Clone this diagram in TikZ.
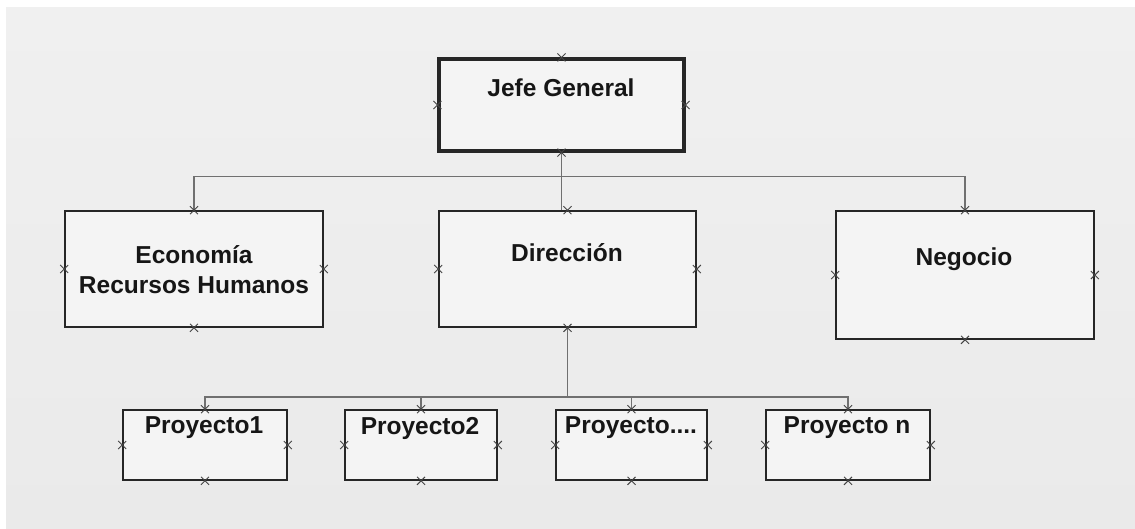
\documentclass[tikz,border=0pt]{standalone}
\usepackage{fontspec}
\setmainfont{Liberation Sans}
\definecolor{pagebg}{HTML}{F0F0F0}
\definecolor{pagebgdark}{HTML}{EAEAEA}
\definecolor{boxfill}{HTML}{F4F4F4}
\definecolor{boxline}{HTML}{262626}
\definecolor{wire}{HTML}{707070}
\definecolor{mark}{HTML}{444444}
\definecolor{ink}{HTML}{161616}
\tikzset{
  unitbox/.style={draw=boxline, fill=boxfill, line width=1.7pt, inner sep=0pt, rectangle},
  headbox/.style={unitbox, line width=3.2pt},
  lbl/.style={font=\bfseries\fontsize{24.5}{30}\selectfont, text=ink, align=center, inner sep=0pt},
  wireline/.style={draw=wire, line width=1.5pt},
  cp/.style={draw=mark, line width=0.9pt},
}
% small connection-point cross at the middle of every side of a box
\newcommand\cpmarks[1]{%
  \foreach \side in {north,south,east,west}{%
    \draw[cp] ($(#1.\side)+(-4,-4)$) -- ($(#1.\side)+(4,4)$)
              ($(#1.\side)+(-4,4)$) -- ($(#1.\side)+(4,-4)$);
  }}
\usetikzlibrary{calc}
\begin{document}
\begin{tikzpicture}[x=1pt,y=-1pt]
  % page background
  \useasboundingbox (0,0) rectangle (1135,528);
  \fill[white] (0,0) rectangle (1135,528);
  \shade[top color=pagebg, bottom color=pagebgdark] (6,7) rectangle (1135,528);

  % boxes
  \node[headbox, minimum width=245pt, minimum height=92pt] (jefe) at (561.5,105) {};
  \node[unitbox, minimum width=258pt, minimum height=116pt] (econ) at (194,269) {};
  \node[unitbox, minimum width=257pt, minimum height=116pt] (dir)  at (567.5,269) {};
  \node[unitbox, minimum width=258pt, minimum height=128pt] (neg)  at (965,275) {};
  \node[unitbox, minimum width=164pt, minimum height=70pt] (p1) at (205,445) {};
  \node[unitbox, minimum width=152pt, minimum height=70pt] (p2) at (421,445) {};
  \node[unitbox, minimum width=151pt, minimum height=70pt] (p3) at (631.5,445) {};
  \node[unitbox, minimum width=164pt, minimum height=70pt] (pn) at (848,445) {};

  % labels
  \node[lbl] (tjefe) at (561,88)  {Jefe General};
  \node[lbl] (tecon) at (194,270) {Economía\\Recursos Humanos};
  \node[lbl] (tdir)  at (567,253) {Dirección};
  \node[lbl] (tneg)  at (964,259) {Negocio};
  \node[lbl] (tp1)   at (204,428) {Proyecto1};
  \node[lbl] (tp2)   at (420,428) {Proyecto2};
  \node[lbl] (tp3)   at (631,428) {Proyecto....};
  \node[lbl] (tpn)   at (847,428) {Proyecto n};

  % connectors: top level
  \coordinate (bus1) at ($(jefe.south)+(0,24)$);
  \draw[wireline] (jefe.south) -- (jefe.south |- dir.north);
  \draw[wireline] (bus1) -| (econ.north);
  \draw[wireline] (bus1) -| (neg.north);

  % connectors: projects
  \coordinate (bus2) at (dir.south |- 0,397);
  \draw[wireline] (dir.south) -- (bus2);
  \draw[wireline] (bus2) -| (p1.north);
  \draw[wireline] (bus2) -| (p2.north);
  \draw[wireline] (bus2) -| (p3.north);
  \draw[wireline] (bus2) -| (pn.north);

  % connection points
  \foreach \b in {jefe,econ,dir,neg,p1,p2,p3,pn}{\cpmarks{\b}}
\end{tikzpicture}
\end{document}
